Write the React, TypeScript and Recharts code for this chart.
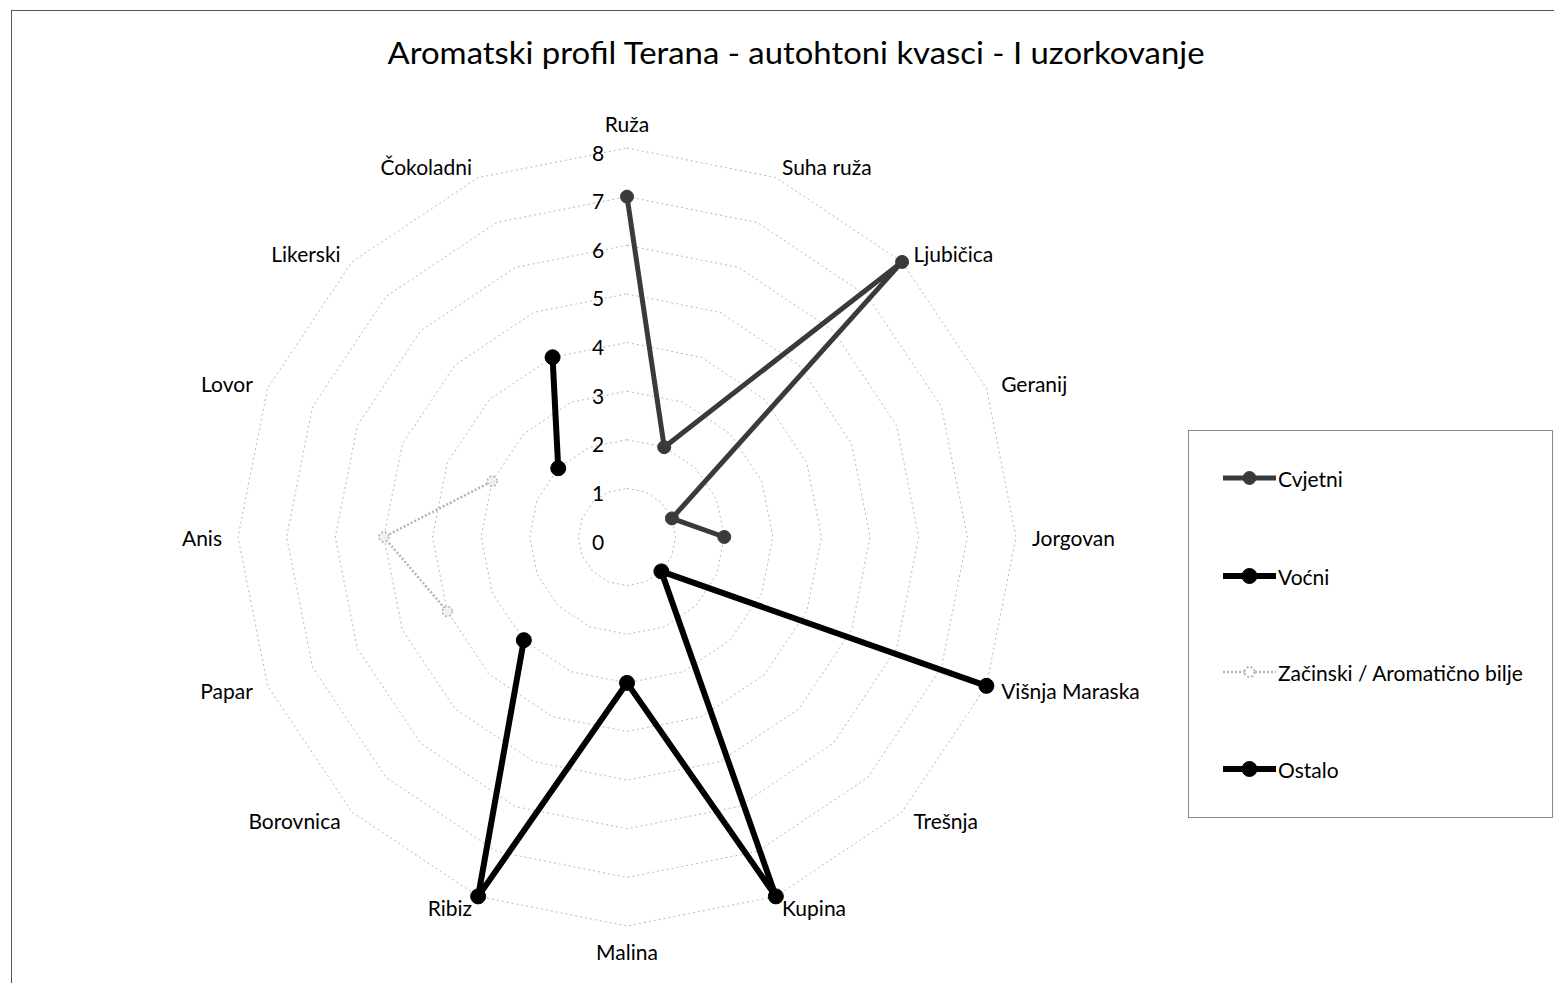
import React from 'react';
import { RadarChart, Radar, PolarGrid, PolarAngleAxis, PolarRadiusAxis, Legend } from 'recharts';

const categories = [
  'Ruža', 'Suha ruža', 'Ljubičica', 'Geranij', 'Jorgovan', 'Višnja Maraska', 'Trešnja', 'Kupina',
  'Malina', 'Ribiz', 'Borovnica', 'Papar', 'Anis', 'Lovor', 'Likerski', 'Čokoladni',
];
const cvjetni = [7, 2, 8, 1, 2, null, null, null, null, null, null, null, null, null, null, null];
const vocni = [null, null, null, null, null, 8, 1, 8, 3, 8, 3, null, null, null, null, null];
const zacinski = [null, null, null, null, null, null, null, null, null, null, null, 4, 5, 3, null, null];
const ostalo = [null, null, null, null, null, null, null, null, null, null, null, null, null, null, 2, 4];
const radiusTicks = [0, 1, 2, 3, 4, 5, 6, 7, 8];
const title = 'Aromatski profil Terana - autohtoni kvasci - I uzorkovanje';

const data = categories.map((name, i) => ({
  name,
  cvjetni: cvjetni[i],
  vocni: vocni[i],
  zacinski: zacinski[i],
  ostalo: ostalo[i],
}));

const series = [
  { key: 'cvjetni', values: cvjetni, name: 'Cvjetni', stroke: '#3a3a3a', width: 5, dash: undefined as string | undefined, dotR: 6.5, dotFill: '#3a3a3a' },
  { key: 'vocni', values: vocni, name: 'Voćni', stroke: '#000000', width: 6, dash: undefined as string | undefined, dotR: 7.5, dotFill: '#000000' },
  { key: 'zacinski', values: zacinski, name: 'Začinski / Aromatično bilje', stroke: '#b4b4b4', width: 2.5, dash: '2 2', dotR: 5, dotFill: 'none' },
  { key: 'ostalo', values: ostalo, name: 'Ostalo', stroke: '#000000', width: 6, dash: undefined as string | undefined, dotR: 7.5, dotFill: '#000000' },
];

const FONT = 'Lato, "Open Sans", sans-serif';

const AngleTick = (props: any) => {
  const { x, y, payload } = props;
  const a = (payload.coordinate * Math.PI) / 180;
  const dx = Math.cos(a);
  const dy = -Math.sin(a);
  let px = x + dx * 8;
  let py = y + dy * 4;
  let anchor = 'middle';
  if (dx > 0.01) anchor = 'start';
  else if (dx < -0.01) anchor = 'end';
  else py += dy * 13;
  return (
    <text x={px} y={py} textAnchor={anchor} dominantBaseline="central" fontSize={21} fontFamily={FONT} fill="#000">
      {payload.value}
    </text>
  );
};

const RadiusTick = (props: any) => {
  const { x, y, payload } = props;
  return (
    <text x={x - 29} y={y + 4} textAnchor="middle" dominantBaseline="central" fontSize={21} fontFamily={FONT} fill="#000">
      {payload.value}
    </text>
  );
};

const makeShape = (s: (typeof series)[number]) => (props: any) => {
  const pts: any[] = props.points || [];
  const vals = s.values;
  let d = '';
  let pen = false;
  pts.forEach((p, i) => {
    if (vals[i] == null || !Number.isFinite(p.x) || !Number.isFinite(p.y)) {
      pen = false;
      return;
    }
    d += `${pen ? 'L' : 'M'}${p.x},${p.y}`;
    pen = true;
  });
  if (pts.length > 1 && vals[vals.length - 1] != null && vals[0] != null) {
    d += `L${pts[0].x},${pts[0].y}`;
  }
  return (
    <path
      d={d}
      fill="none"
      stroke={s.stroke}
      strokeWidth={s.width}
      strokeDasharray={s.dash}
      strokeLinejoin="round"
    />
  );
};

const makeDot = (s: (typeof series)[number]) => (props: any) => {
  const { cx, cy, index } = props;
  if (s.values[index] == null) return <g key={`d-${s.key}-${index}`} />;
  return (
    <circle
      key={`d-${s.key}-${index}`}
      cx={cx}
      cy={cy}
      r={s.dotR}
      fill={s.dotFill === 'none' ? '#f0f0f0' : s.dotFill}
      stroke={s.stroke}
      strokeWidth={s.dash ? 1.5 : 1}
      strokeDasharray={s.dash}
    />
  );
};

const renderLegend = () => (
  <div
    style={{
      width: 365,
      height: 388,
      boxSizing: 'border-box',
      border: '1px solid #8a8a8a',
      position: 'relative',
      fontFamily: FONT,
    }}
  >
    {series.map((s, i) => (
      <div
        key={s.key}
        style={{
          position: 'absolute',
          left: 33,
          top: [47, 145, 241, 338][i] - 12,
          height: 24,
          display: 'flex',
          alignItems: 'center',
          whiteSpace: 'nowrap',
        }}
      >
        <svg width={56} height={24} style={{ display: 'block' }}>
          <line x1={1} y1={12} x2={54} y2={12} stroke={s.stroke} strokeWidth={s.width} strokeDasharray={s.dash} />
          <circle cx={27.5} cy={12} r={s.dotR} fill={s.dotFill === 'none' ? '#fff' : s.dotFill} stroke={s.stroke} strokeWidth={s.dash ? 2 : 1} strokeDasharray={s.dash} />
        </svg>
        <span style={{ fontSize: 21, color: '#000' }}>{s.name}</span>
      </div>
    ))}
  </div>
);

export default function App() {
  return (
    <div style={{ position: 'relative', width: 1546, height: 975 }}>
      <div
        style={{
          position: 'absolute',
          left: 3,
          top: 2,
          width: 1543,
          height: 973,
          borderTop: '1px solid #555',
          borderLeft: '1px solid #555',
          boxSizing: 'border-box',
        }}
      />
      <svg width={1546} height={90} style={{ position: 'absolute', left: 0, top: 0 }}>
        <text
          x={788}
          y={44}
          textAnchor="middle"
          dominantBaseline="central"
          fontSize={30}
          fontFamily={FONT}
          fill="#000"
          textLength={817}
          lengthAdjust="spacingAndGlyphs"
        >
          {title}
        </text>
      </svg>
      <div style={{ position: 'absolute', left: 0, top: 0 }}>
        <RadarChart
          width={1546}
          height={975}
          data={data}
          cx={619}
          cy={529}
          outerRadius={389}
          margin={{ top: 0, right: 0, bottom: 0, left: 0 }}
        >
          <PolarGrid gridType="polygon" radialLines={false} stroke="#b8b8b8" strokeDasharray="2 3" strokeWidth={1} />
          <PolarAngleAxis dataKey="name" tick={<AngleTick />} tickLine={false} axisLine={false} />
          <PolarRadiusAxis
            angle={90}
            domain={[0, 8]}
            ticks={radiusTicks as any}
            tickCount={9}
            axisLine={false}
            tickLine={false}
            tick={<RadiusTick />}
          />
          {series.map((s) => (
            <Radar
              key={s.key}
              name={s.name}
              dataKey={s.key}
              stroke={s.stroke}
              strokeWidth={s.width}
              fill="none"
              fillOpacity={0}
              isAnimationActive={false}
              shape={makeShape(s)}
              dot={makeDot(s)}
            />
          ))}
          <Legend content={renderLegend} wrapperStyle={{ left: 1180, top: 422, width: 365, height: 388 }} />
        </RadarChart>
      </div>
    </div>
  );
}
